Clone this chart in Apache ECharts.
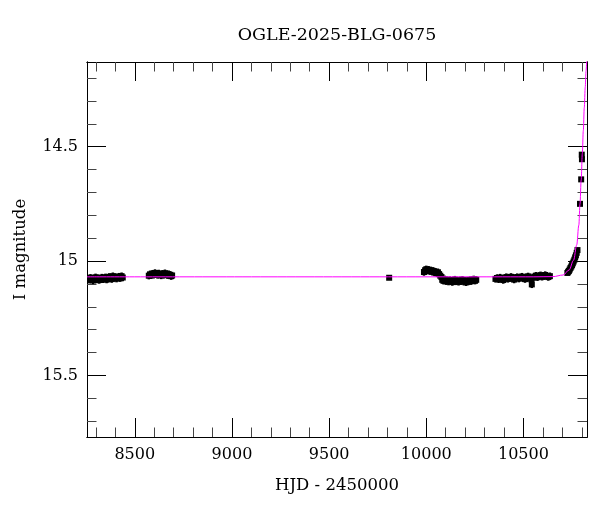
<!DOCTYPE html>
<html>
<head>
<meta charset="utf-8">
<script src="https://cdn.jsdelivr.net/npm/echarts@6/dist/echarts.min.js"></script>
<style>html,body{margin:0;padding:0;background:#fff}#c{width:600px;height:512px}</style>
</head>
<body>
<div id="c"></div>
<script>
// ---- data ----
const titleText = 'OGLE-2025-BLG-0675';
const xName = 'HJD - 2450000';
const yName = 'I magnitude';
const xRange = [8254, 10827];
const yRange = [14.13, 15.769];
const xMajor = [8500, 9000, 9500, 10000, 10500];
const xMinor = [8300, 8400, 8600, 8700, 8800, 8900, 9100, 9200, 9300, 9400, 9600, 9700, 9800, 9900, 10100, 10200, 10300, 10400, 10600, 10700, 10800];
const yMajor = [14.5, 15, 15.5];
const yMinor = [14.2, 14.3, 14.4, 14.6, 14.7, 14.8, 14.9, 15.1, 15.2, 15.3, 15.4, 15.6, 15.7];

const s1t = [8260,8266,8272,8279,8285,8291,8298,8304,8310,8317,8323,8330,8336,8342,8349,8355,8361,8368,8374,8381,8387,8393,8400,8406,8413,8419,8425,8432,8438];
const s1m = [15.076,15.082,15.073,15.080,15.085,15.077,15.071,15.081,15.075,15.083,15.078,15.072,15.080,15.076,15.071,15.081,15.077,15.069,15.074,15.079,15.066,15.073,15.070,15.077,15.071,15.068,15.075,15.066,15.072];

const s2t = [8572,8578,8585,8591,8597,8604,8610,8617,8623,8629,8636,8642,8649,8655,8661,8668,8674,8680,8687,8692];
const s2m = [15.064,15.058,15.062,15.055,15.060,15.052,15.057,15.061,15.054,15.059,15.063,15.056,15.060,15.053,15.058,15.062,15.057,15.061,15.066,15.063];

const s3t = [9809];
const s3m = [15.073];

const s4t = [9988,9994,10000,10006,10012,10018,10024,10030,10036,10042,10048,10054,10060,10066,10072,10078,10082,10088,10095,10101,10108,10114,10121,10127,10134,10140,10147,10153,10160,10166,10173,10179,10186,10192,10199,10205,10212,10218,10225,10231,10238,10244,10251,10257];
const s4m = [15.048,15.040,15.036,15.042,15.038,15.044,15.041,15.046,15.043,15.050,15.047,15.053,15.049,15.057,15.064,15.070,15.082,15.086,15.080,15.088,15.084,15.090,15.083,15.087,15.092,15.085,15.081,15.089,15.086,15.091,15.084,15.088,15.082,15.090,15.086,15.093,15.085,15.089,15.083,15.088,15.084,15.080,15.086,15.082];

const s5t = [10356,10364,10372,10380,10388,10396,10404,10412,10420,10428,10436,10444,10452,10460,10468,10476,10484,10492,10500,10508,10516,10524,10532,10540,10543,10548,10556,10564,10572,10580,10588,10596,10604,10612,10620,10628,10636];
const s5m = [15.078,15.074,15.080,15.072,15.077,15.083,15.075,15.070,15.078,15.074,15.069,15.076,15.081,15.073,15.070,15.077,15.072,15.068,15.075,15.079,15.071,15.067,15.074,15.080,15.102,15.073,15.068,15.064,15.071,15.066,15.062,15.069,15.065,15.061,15.067,15.070,15.066];

const s6t = [10726,10730,10734,10738,10742,10746,10750,10754,10758,10762,10766,10770,10774,10778,10791,10797,10800,10801];
const s6m = [15.052,15.047,15.043,15.037,15.030,15.024,15.018,15.010,15.002,14.994,14.984,14.975,14.964,14.952,14.750,14.643,14.535,14.555];

const seasonErr = [0.016, 0.016, 0.008, 0.016, 0.016, 0.010];

const modelT = [8254, 10550, 10652, 10704, 10735, 10758, 10774, 10785, 10791, 10797, 10803, 10808, 10813, 10818, 10822, 10826];
const modelM = [15.069, 15.069, 15.068, 15.061, 15.039, 14.996, 14.930, 14.843, 14.750, 14.646, 14.530, 14.430, 14.330, 14.240, 14.170, 14.110];

// ---- build ----
const seasons = [[s1t,s1m],[s2t,s2m],[s3t,s3m],[s4t,s4m],[s5t,s5m],[s6t,s6m]];
const obs = [];
seasons.forEach(function (s, k) {
  s[0].forEach(function (t, i) { obs.push([t, s[1][i], seasonErr[k]]); });
});
const model = modelT.map(function (t, i) { return [t, modelM[i]]; });

const FONT = 'DejaVu Serif';
const fmt = function (v) { return String(v); };

function xAx(pos, ticks, len, labels, extra) {
  return Object.assign({
    type: 'value', gridIndex: 0, position: pos, min: xRange[0], max: xRange[1],
    axisLine: { show: true, onZero: false, lineStyle: { color: '#000', width: 1 } },
    axisTick: { show: true, inside: true, length: len, customValues: ticks, lineStyle: { color: len > 12 ? '#000' : '#444', width: 1 } },
    axisLabel: labels ? { show: true, customValues: ticks, formatter: fmt, fontFamily: FONT, fontSize: 16, color: '#000', margin: 10 } : { show: false },
    splitLine: { show: false }
  }, extra || {});
}
function yAx(pos, ticks, len, labels, extra) {
  return Object.assign({
    type: 'value', gridIndex: 0, position: pos, min: yRange[0], max: yRange[1], inverse: true,
    axisLine: { show: true, onZero: false, lineStyle: { color: '#000', width: 1 } },
    axisTick: { show: true, inside: true, length: len, customValues: ticks, lineStyle: { color: len > 12 ? '#000' : '#444', width: 1 } },
    axisLabel: labels ? { show: true, customValues: ticks, formatter: fmt, fontFamily: FONT, fontSize: 16, color: '#000', margin: 9 } : { show: false },
    splitLine: { show: false }
  }, extra || {});
}

const chart = echarts.init(document.getElementById('c'), null, { renderer: 'canvas' });
chart.setOption({
  animation: false,
  backgroundColor: '#fff',
  grid: { left: 87, top: 62, width: 500, height: 375, outerBoundsMode: 'none', containLabel: false },
  graphic: [{
    type: 'text', x: 337, y: 35,
    style: { text: titleText, fontFamily: FONT, fontSize: 17.5, fill: '#000', align: 'center', verticalAlign: 'middle' }
  }],
  xAxis: [
    xAx('bottom', xMajor, 19, true, {
      name: xName, nameLocation: 'middle', nameGap: 40,
      nameTextStyle: { fontFamily: FONT, fontSize: 16.5, color: '#000' }
    }),
    xAx('bottom', xMinor, 9.5, false),
    xAx('top', xMajor, 19, false),
    xAx('top', xMinor, 9.5, false)
  ],
  yAxis: [
    yAx('left', yMajor, 19, true, {
      name: yName, nameLocation: 'middle', nameGap: 58,
      nameTextStyle: { fontFamily: FONT, fontSize: 16.5, color: '#000' }
    }),
    yAx('left', yMinor, 9.5, false),
    yAx('right', yMajor, 19, false),
    yAx('right', yMinor, 9.5, false)
  ],
  series: [
    {
      type: 'line', xAxisIndex: 0, yAxisIndex: 0, data: model,
      smooth: 0.35, smoothMonotone: 'x', showSymbol: false, clip: true,
      lineStyle: { color: '#ff00ff', width: 1 }, z: 3
    },
    {
      type: 'custom', xAxisIndex: 0, yAxisIndex: 0, data: obs, clip: true,
      encode: { x: 0, y: 1 }, z: 2,
      renderItem: function (params, api) {
        const t = api.value(0), m = api.value(1), e = api.value(2);
        const p = api.coord([t, m]);
        const a = api.coord([t, m - e]);
        const b = api.coord([t, m + e]);
        return {
          type: 'group',
          children: [
            { type: 'line', shape: { x1: p[0], y1: a[1], x2: p[0], y2: b[1] }, style: { stroke: '#000', lineWidth: 2.5 } },
            { type: 'rect', shape: { x: p[0] - 3, y: p[1] - 3, width: 6, height: 6 }, style: { fill: '#000' } }
          ]
        };
      }
    }
  ]
});
</script>
</body>
</html>
